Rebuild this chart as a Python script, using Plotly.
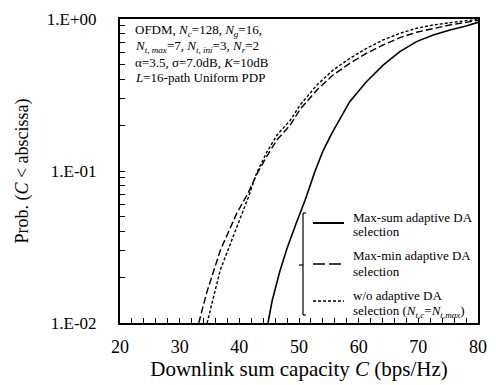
import plotly.graph_objects as go

# ---------------- data ----------------
maxsum_x = [44.8, 45.5, 46.8, 48.0, 49.5, 51.0, 52.7, 54.0, 55.5, 58.5, 61.3, 64.1, 66.9, 69.7, 72.5, 75.3, 78.0, 80.0]
maxsum_y = [0.0100, 0.014, 0.022, 0.031, 0.045, 0.064, 0.100, 0.135, 0.177, 0.286, 0.387, 0.497, 0.610, 0.710, 0.785, 0.847, 0.900, 0.950]

maxmin_x = [33.2, 34.5, 36.8, 39.6, 41.5, 42.9, 44.6, 46.3, 48.5, 50.2, 53.0, 55.7, 58.5, 61.3, 64.1, 66.9, 69.7, 72.5, 75.3, 78.0, 80.0]
maxmin_y = [0.0100, 0.0157, 0.030, 0.053, 0.072, 0.095, 0.125, 0.160, 0.200, 0.255, 0.341, 0.428, 0.511, 0.594, 0.675, 0.754, 0.818, 0.869, 0.914, 0.950, 0.980]

wo_x = [34.6, 36.8, 39.6, 41.5, 42.9, 44.6, 46.3, 48.5, 50.2, 53.0, 55.7, 58.5, 61.3, 64.1, 66.9, 69.7, 72.5, 75.3, 78.0, 80.0]
wo_y = [0.0100, 0.0223, 0.043, 0.067, 0.097, 0.133, 0.172, 0.215, 0.272, 0.368, 0.461, 0.550, 0.641, 0.728, 0.805, 0.869, 0.914, 0.950, 0.975, 0.990]

x_ticks = [20, 30, 40, 50, 60, 70, 80]
y_major = [1.0, 0.1, 0.01]
y_major_labels = ["1.E+00", "1.E-01", "1.E-02"]

legend_labels = [
    ("Max-sum adaptive DA", "selection"),
    ("Max-min adaptive DA", "selection"),
    ("w/o adaptive DA", "selection (<i>N<sub>t,c</sub></i>=<i>N<sub>t,max</sub></i>)"),
]
info_lines = [
    "OFDM, <i>N<sub>c</sub></i>=128, <i>N<sub>g</sub></i>=16,",
    "<i>N<sub>t, max</sub></i>=7, <i>N<sub>t, ini</sub></i>=3, <i>N<sub>r</sub></i>=2",
    "α=3.5, σ=7.0dB, <i>K</i>=10dB",
    "<i>L</i>=16-path Uniform PDP",
]

# ---------------- figure ----------------
FONT = "Liberation Serif, Times New Roman, serif"
W, H = 496, 385
L, R, T, B = 120, 18, 19, 62
PW, PH = W - L - R, H - T - B


def px(xp):
    return (xp - L) / PW


def py(yp):
    return (H - B - yp) / PH


fig = go.Figure()
fig.add_trace(go.Scatter(x=maxsum_x, y=maxsum_y, mode="lines",
                         line=dict(color="black", width=1.6), showlegend=False))
fig.add_trace(go.Scatter(x=maxmin_x, y=maxmin_y, mode="lines",
                         line=dict(color="black", width=1.4, dash="7px,3px"), showlegend=False))
fig.add_trace(go.Scatter(x=wo_x, y=wo_y, mode="lines",
                         line=dict(color="black", width=1.4, dash="3px,2px"), showlegend=False))

# y tick values incl. minor log ticks
y_tickvals, y_ticktext = [], []
for dec in [0.01, 0.1]:
    for m in range(1, 10):
        v = round(dec * m, 6)
        y_tickvals.append(v)
        y_ticktext.append(y_major_labels[y_major.index(v)] if v in y_major else "")
y_tickvals.append(1.0)
y_ticktext.append("1.E+00")

fig.update_xaxes(range=[20, 80], tickvals=x_ticks, ticks="inside", ticklen=5, tickwidth=1.3,
                 tickcolor="black", showline=True, linecolor="black", linewidth=2, mirror=True,
                 showgrid=False, zeroline=False, ticklabelstandoff=6, automargin=False,
                 tickfont=dict(family=FONT, size=18, color="black"),
                 minor=dict(dtick=2, ticks="inside", ticklen=5, tickwidth=1.3, tickcolor="black", showgrid=False),
                 title=dict(text="Downlink sum capacity <i>C</i> (bps/Hz)", standoff=4,
                            font=dict(family=FONT, size=21, color="black")))
fig.update_yaxes(type="log", range=[-2, 0], tickvals=y_tickvals, ticktext=y_ticktext,
                 ticks="inside", ticklen=5, tickwidth=1.3, tickcolor="black",
                 showline=True, linecolor="black", linewidth=2, mirror=True,
                 showgrid=False, zeroline=False, ticklabelstandoff=18, automargin=False,
                 tickfont=dict(family=FONT, size=17, color="black"),
                 title=dict(text="Prob. (<i>C</i> &lt; abscissa)", standoff=14,
                            font=dict(family=FONT, size=18, color="black")))

annotations = []
info_y = [30, 46.5, 62, 77]
for txt, yy in zip(info_lines, info_y):
    annotations.append(dict(text=txt, xref="paper", yref="paper", x=px(133), y=py(yy),
                            xanchor="left", yanchor="middle", showarrow=False,
                            font=dict(family=FONT, size=13, color="black")))

leg_text_y = [(217, 232), (255, 271), (295, 311)]
for (l1, l2), (y1, y2) in zip(legend_labels, leg_text_y):
    for t, yy in [(l1, y1), (l2, y2)]:
        annotations.append(dict(text=t, xref="paper", yref="paper", x=px(351), y=py(yy),
                                xanchor="left", yanchor="middle", showarrow=False,
                                font=dict(family=FONT, size=13, color="black")))

shapes = []
# bracket
bx = 303
shapes.append(dict(type="line", xref="paper", yref="paper", x0=px(bx), x1=px(bx), y0=py(213), y1=py(315),
                   line=dict(color="black", width=1.2)))
for yy in (213, 315):
    shapes.append(dict(type="line", xref="paper", yref="paper", x0=px(bx), x1=px(bx + 3), y0=py(yy), y1=py(yy),
                       line=dict(color="black", width=1.2)))
shapes.append(dict(type="line", xref="paper", yref="paper", x0=px(bx - 4), x1=px(bx), y0=py(265), y1=py(265),
                   line=dict(color="black", width=1.2)))
# legend samples
sample_styles = [("solid", 2.0, 223), ("12px,4px", 1.4, 264), ("3px,2px", 1.4, 301)]
for dash, w, yy in sample_styles:
    shapes.append(dict(type="line", xref="paper", yref="paper", x0=px(313), x1=px(344), y0=py(yy), y1=py(yy),
                       line=dict(color="black", width=w, dash=dash)))

fig.update_layout(width=W, height=H, margin=dict(l=L, r=R, t=T, b=B, autoexpand=False),
                  paper_bgcolor="white", plot_bgcolor="white",
                  annotations=annotations, shapes=shapes, showlegend=False)

fig.write_html("out.html", config={"displayModeBar": False},
               post_script="document.body.style.margin='0';document.body.style.overflow='hidden';")
